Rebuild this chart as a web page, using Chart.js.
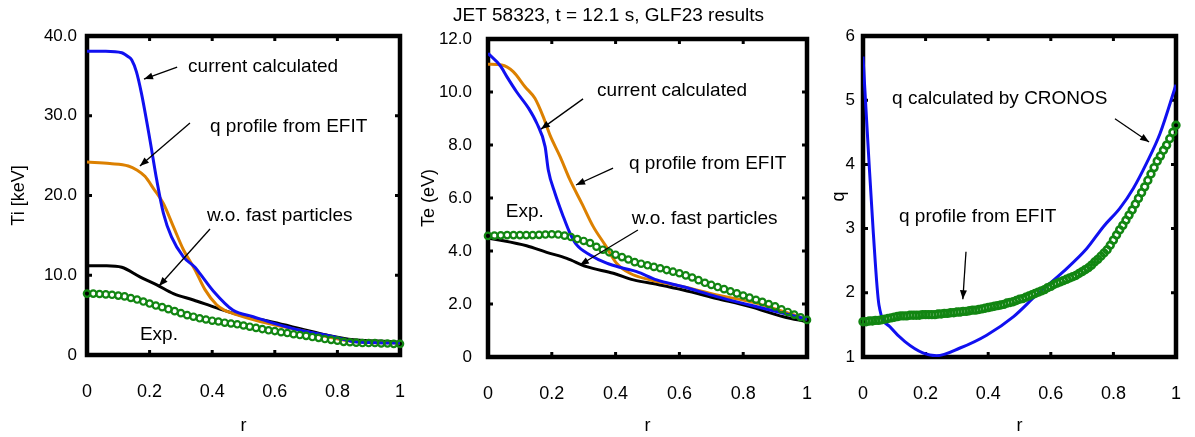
<!DOCTYPE html>
<html>
<head>
<meta charset="utf-8">
<script src="https://cdn.jsdelivr.net/npm/chart.js@4.4.0/dist/chart.umd.min.js"></script>
<style>
  body { margin: 0; background: #fff; }
  #wrap { position: relative; width: 1195px; height: 437px; overflow: hidden; }
  canvas { position: absolute; top: 0; }
</style>
</head>
<body>
<div id="wrap">
  <canvas id="ti" width="410" height="437" style="left:0"></canvas>
  <canvas id="te" width="410" height="437" style="left:410px"></canvas>
  <canvas id="q" width="375" height="437" style="left:820px"></canvas>
</div>
<script>
// radius grids of the measured profiles
const rExp = [0, 0.02, 0.04, 0.06, 0.08, 0.10, 0.12, 0.14, 0.16, 0.18, 0.20, 0.22, 0.24, 0.26, 0.28, 0.30, 0.32, 0.34, 0.36, 0.38, 0.40,
  0.42, 0.44, 0.46, 0.48, 0.50, 0.52, 0.54, 0.56, 0.58, 0.60, 0.62, 0.64, 0.66, 0.68, 0.70, 0.72, 0.74, 0.76, 0.78, 0.80,
  0.82, 0.84, 0.86, 0.88, 0.90, 0.92, 0.94, 0.96, 0.98, 1.00];
const rEfit = [0, 0.01, 0.02, 0.03, 0.04, 0.05, 0.06, 0.07, 0.08, 0.09, 0.10, 0.11, 0.12, 0.13, 0.14, 0.15, 0.16, 0.17, 0.18, 0.19,
  0.20, 0.21, 0.22, 0.23, 0.24, 0.25, 0.26, 0.27, 0.28, 0.29, 0.30, 0.31, 0.32, 0.33, 0.34, 0.35, 0.36, 0.37, 0.38, 0.39,
  0.40, 0.41, 0.42, 0.43, 0.44, 0.45, 0.46, 0.47, 0.48, 0.49, 0.50, 0.51, 0.52, 0.53, 0.54, 0.55, 0.56, 0.57, 0.58, 0.59,
  0.60, 0.61, 0.62, 0.63, 0.64, 0.65, 0.66, 0.67, 0.68, 0.69, 0.70, 0.71, 0.72, 0.73, 0.74, 0.75, 0.76, 0.77, 0.78, 0.79,
  0.80, 0.81, 0.82, 0.83, 0.84, 0.85, 0.86, 0.87, 0.88, 0.89, 0.90, 0.91, 0.92, 0.93, 0.94, 0.95, 0.96, 0.97, 0.98, 0.99, 1.00];

// Ti [keV]
const tiExp = [7.7, 7.7, 7.65, 7.6, 7.55, 7.45, 7.35, 7.15, 6.95, 6.7, 6.45, 6.2, 6.0, 5.75, 5.5, 5.25, 5.0, 4.8, 4.6, 4.45, 4.3,
  4.2, 4.05, 3.95, 3.85, 3.7, 3.55, 3.4, 3.25, 3.1, 3.0, 2.85, 2.75, 2.6, 2.5, 2.4, 2.25, 2.15, 2.0, 1.9, 1.8,
  1.65, 1.6, 1.55, 1.5, 1.5, 1.5, 1.45, 1.45, 1.4, 1.4];
const tiCurR = [0, 0.06, 0.111, 0.132, 0.143, 0.158, 0.174, 0.201, 0.223, 0.244, 0.270, 0.308, 0.345, 0.361, 0.404, 0.467, 0.531, 0.595, 0.681, 0.787, 0.851, 0.93, 1.0];
const tiCur = [38.1, 38.1, 37.9, 37.4, 37.0, 35.5, 32.8, 27.0, 21.9, 17.8, 14.8, 12.3, 11.0, 10.2, 8.0, 5.6, 4.8, 4.0, 3.1, 2.3, 1.7, 1.55, 1.5];
const tiEfitR = [0, 0.073, 0.132, 0.159, 0.185, 0.212, 0.244, 0.276, 0.308, 0.345, 0.377, 0.414, 0.44, 0.467, 0.553, 0.681, 0.851, 1.0];
const tiEfit = [24.2, 24.0, 23.7, 23.2, 22.4, 20.9, 19.0, 16.1, 13.2, 10.7, 8.2, 6.3, 5.6, 5.2, 4.2, 3.1, 1.7, 1.5];
const tiWofR = [0, 0.063, 0.111, 0.169, 0.223, 0.276, 0.340, 0.414, 0.489, 0.595, 0.681, 0.766, 0.851, 0.931, 1.0];
const tiWof = [11.2, 11.2, 11.0, 9.8, 8.8, 7.7, 6.9, 5.9, 5.0, 4.1, 3.3, 2.5, 1.9, 1.75, 1.6];

// Te (eV)
const teExp = [4.57, 4.58, 4.59, 4.60, 4.60, 4.60, 4.60, 4.60, 4.61, 4.62, 4.63, 4.62, 4.58, 4.53, 4.45, 4.38, 4.30, 4.16, 4.05, 3.95, 3.86,
  3.77, 3.68, 3.58, 3.52, 3.46, 3.40, 3.35, 3.28, 3.22, 3.16, 3.08, 3.00, 2.90, 2.80, 2.72, 2.64, 2.56, 2.48, 2.40, 2.32,
  2.24, 2.16, 2.08, 2.00, 1.91, 1.80, 1.70, 1.60, 1.50, 1.40];
const teCurR = [0, 0.038, 0.059, 0.090, 0.127, 0.153, 0.179, 0.189, 0.210, 0.236, 0.257, 0.278, 0.320, 0.372, 0.424, 0.466, 0.529, 0.612, 0.717, 0.821, 0.926, 1.0];
const teCur = [11.46, 11.0, 10.58, 10.0, 9.39, 8.82, 7.94, 7.06, 6.18, 5.30, 4.67, 4.23, 3.85, 3.54, 3.35, 3.22, 2.91, 2.65, 2.28, 1.96, 1.65, 1.42];
const teEfitR = [0, 0.043, 0.079, 0.116, 0.147, 0.173, 0.194, 0.226, 0.257, 0.294, 0.330, 0.367, 0.403, 0.445, 0.508, 0.612, 0.717, 0.821, 0.926, 1.0];
const teEfit = [11.05, 11.02, 10.77, 10.2, 9.76, 9.07, 8.38, 7.56, 6.68, 5.80, 4.92, 4.23, 3.54, 3.16, 2.91, 2.65, 2.34, 2.09, 1.72, 1.42];
const teWofR = [0, 0.048, 0.121, 0.184, 0.247, 0.309, 0.393, 0.456, 0.539, 0.612, 0.717, 0.821, 0.926, 1.0];
const teWof = [4.48, 4.39, 4.20, 3.95, 3.72, 3.41, 3.16, 2.91, 2.72, 2.53, 2.21, 1.90, 1.52, 1.33];

// q
const qEfit = [1.55, 1.55, 1.56, 1.56, 1.57, 1.57, 1.58, 1.59, 1.60, 1.61, 1.62, 1.63, 1.64, 1.64, 1.64, 1.65, 1.65, 1.65, 1.65, 1.66,
  1.66, 1.66, 1.66, 1.66, 1.67, 1.67, 1.68, 1.68, 1.69, 1.69, 1.70, 1.70, 1.71, 1.71, 1.72, 1.73, 1.73, 1.74, 1.75, 1.76,
  1.77, 1.78, 1.79, 1.80, 1.81, 1.82, 1.84, 1.85, 1.86, 1.88, 1.90, 1.91, 1.93, 1.95, 1.97, 1.99, 2.01, 2.03, 2.05, 2.08,
  2.10, 2.13, 2.15, 2.17, 2.19, 2.21, 2.23, 2.25, 2.27, 2.30, 2.33, 2.36, 2.39, 2.43, 2.48, 2.52, 2.57, 2.62, 2.67, 2.74,
  2.82, 2.90, 2.98, 3.05, 3.13, 3.21, 3.29, 3.38, 3.47, 3.56, 3.65, 3.75, 3.85, 3.95, 4.05, 4.13, 4.22, 4.30, 4.40, 4.50, 4.61];
const qCronosR = [0, 0.017, 0.033, 0.051, 0.086, 0.134, 0.193, 0.235, 0.310, 0.395, 0.481, 0.555, 0.640, 0.715, 0.768, 0.821, 0.864, 0.906, 0.949, 1.0];
const qCronos = [5.68, 4.22, 2.93, 1.81, 1.47, 1.24, 1.06, 1.02, 1.14, 1.34, 1.63, 1.97, 2.33, 2.69, 3.03, 3.32, 3.63, 4.02, 4.48, 5.24];

const FONT = '"Liberation Sans", Arial, sans-serif';
const NARROW = '"Liberation Sans Narrow", "Arial Narrow", "Liberation Sans", sans-serif';
const BLUE = '#1010f0', ORANGE = '#dc8000', GREEN = '#128612';

const pts = (xs, ys) => xs.map((x, i) => ({ x, y: ys[i] }));
const line = (xs, ys, color) => ({
  data: pts(xs, ys), showLine: true, borderColor: color, borderWidth: 3,
  pointRadius: 0, cubicInterpolationMode: 'monotone'
});
const circles = (xs, ys, r, w) => ({
  data: pts(xs, ys), showLine: false, borderColor: GREEN, backgroundColor: 'rgba(0,0,0,0)',
  pointRadius: r, pointBorderWidth: w, clip: 8
});

// frame with inward ticks
const frame = {
  id: 'frame',
  beforeDatasetsDraw(chart) {
    const { ctx, chartArea: a, scales: { x, y } } = chart;
    ctx.save();
    ctx.strokeStyle = '#000';
    ctx.lineWidth = 3;
    x.ticks.forEach(t => {
      const p = x.getPixelForValue(t.value);
      if (p < a.left + 4 || p > a.right - 4) return;
      ctx.beginPath();
      ctx.moveTo(p, a.top); ctx.lineTo(p, a.top + 5);
      ctx.moveTo(p, a.bottom); ctx.lineTo(p, a.bottom - 5);
      ctx.stroke();
    });
    y.ticks.forEach(t => {
      const p = y.getPixelForValue(t.value);
      if (p < a.top + 4 || p > a.bottom - 4) return;
      ctx.beginPath();
      ctx.moveTo(a.left, p); ctx.lineTo(a.left + 5, p);
      ctx.moveTo(a.right, p); ctx.lineTo(a.right - 5, p);
      ctx.stroke();
    });
    ctx.lineWidth = 4.5;
    ctx.strokeRect(a.left, a.top, a.right - a.left, a.bottom - a.top);
    ctx.restore();
  }
};

// text labels and arrows, placed in data units
const notes = {
  id: 'notes',
  afterDatasetsDraw(chart, args, opts) {
    const { ctx, scales: { x, y } } = chart;
    ctx.save();
    ctx.fillStyle = '#000';
    ctx.strokeStyle = '#000';
    ctx.font = '19px ' + FONT;
    ctx.textAlign = 'left';
    ctx.textBaseline = 'middle';
    (opts.labels || []).forEach(l => ctx.fillText(l.text, x.getPixelForValue(l.x), y.getPixelForValue(l.y)));
    ctx.lineWidth = 1.3;
    (opts.arrows || []).forEach(([x0, y0, x1, y1]) => {
      const ax = x.getPixelForValue(x0), ay = y.getPixelForValue(y0);
      const bx = x.getPixelForValue(x1), by = y.getPixelForValue(y1);
      const ang = Math.atan2(by - ay, bx - ax);
      ctx.beginPath(); ctx.moveTo(ax, ay); ctx.lineTo(bx, by); ctx.stroke();
      ctx.beginPath();
      ctx.moveTo(bx, by);
      ctx.lineTo(bx - 9 * Math.cos(ang) + 3.5 * Math.sin(ang), by - 9 * Math.sin(ang) - 3.5 * Math.cos(ang));
      ctx.lineTo(bx - 9 * Math.cos(ang) - 3.5 * Math.sin(ang), by - 9 * Math.sin(ang) + 3.5 * Math.cos(ang));
      ctx.closePath(); ctx.fill();
    });
    ctx.restore();
  }
};

const fmtR = v => (Math.abs(v) < 1e-9 ? '0' : Math.abs(v - 1) < 1e-9 ? '1' : v.toFixed(1));

function panel(id, o) {
  return new Chart(document.getElementById(id), {
    type: 'scatter',
    data: { datasets: o.datasets },
    plugins: [frame, notes],
    options: {
      responsive: false,
      animation: false,
      devicePixelRatio: 1,
      layout: { padding: o.pad },
      plugins: {
        legend: { display: false },
        tooltip: { enabled: false },
        title: o.title || { display: false },
        notes: o.notes
      },
      scales: {
        x: {
          type: 'linear', min: 0, max: 1,
          afterFit: s => { s.height = o.xH; },
          // invisible tick marks push the labels down without widening the padding
          grid: { display: false, drawTicks: true, tickLength: 25 },
          border: { display: false },
          ticks: { stepSize: 0.2, padding: 1, color: '#000', maxRotation: 0, autoSkip: false,
                   font: { family: FONT, size: 18 }, callback: fmtR },
          title: { display: true, text: 'r', color: '#000', font: { family: FONT, size: 18 },
                   padding: { top: 0, bottom: 0 } }
        },
        y: {
          type: 'linear', min: o.yMin, max: o.yMax,
          afterFit: s => { s.width = o.yW; },
          grid: { display: false, drawTicks: true, tickLength: o.yPad },
          border: { display: false },
          ticks: { stepSize: o.yStep, padding: 0, color: '#000', autoSkip: false,
                   font: { family: NARROW, size: 17 }, callback: o.yFmt },
          title: { display: true, text: o.yTitle, color: '#000', font: { family: FONT, size: 18 },
                   padding: { top: 8, bottom: 0 } }
        }
      }
    }
  });
}

panel('ti', {
  pad: { top: 36, right: 10, left: 0, bottom: 0 }, xH: 82, yW: 87, yPad: 10,
  yMin: 0, yMax: 40, yStep: 10, yTitle: 'Ti [keV]',
  yFmt: v => (v === 0 ? '0' : v.toFixed(1)),
  datasets: [circles(rExp, tiExp, 3.2, 2.2), line(tiCurR, tiCur, BLUE), line(tiEfitR, tiEfit, ORANGE), line(tiWofR, tiWof, '#000')],
  notes: {
    labels: [
      { text: 'current calculated', x: 0.323, y: 36.1 },
      { text: 'q profile from EFIT', x: 0.393, y: 28.6 },
      { text: 'w.o. fast particles', x: 0.383, y: 17.4 },
      { text: 'Exp.', x: 0.169, y: 2.5 }
    ],
    arrows: [[0.288, 36.1, 0.182, 34.6], [0.329, 29.1, 0.169, 23.7], [0.393, 15.8, 0.230, 8.65]]
  }
});

panel('te', {
  pad: { top: 0, right: 13, left: 0, bottom: 0 }, xH: 80, yW: 78, yPad: 16,
  yMin: 0, yMax: 12, yStep: 2, yTitle: 'Te (eV)',
  yFmt: v => (v === 0 ? '0' : v.toFixed(1)),
  title: { display: true, text: 'JET 58323, t = 12.1 s, GLF23 results', color: '#000',
           font: { family: FONT, size: 19, weight: 'normal' }, padding: { top: 4, bottom: 12.2 } },
  datasets: [circles(rExp, teExp, 3.2, 2.2), line(teCurR, teCur, BLUE), line(teEfitR, teEfit, ORANGE), line(teWofR, teWof, '#000')],
  notes: {
    labels: [
      { text: 'current calculated', x: 0.342, y: 10.04 },
      { text: 'q profile from EFIT', x: 0.442, y: 7.28 },
      { text: 'w.o. fast particles', x: 0.451, y: 5.21 },
      { text: 'Exp.', x: 0.056, y: 5.47 }
    ],
    arrows: [[0.298, 9.74, 0.166, 8.60], [0.392, 7.13, 0.276, 6.49], [0.470, 4.79, 0.288, 3.47]]
  }
});

panel('q', {
  pad: { top: 36, right: 19, left: 0, bottom: 0 }, xH: 80, yW: 43, yPad: 8,
  yMin: 1, yMax: 6, yStep: 1, yTitle: 'q',
  yFmt: v => String(v),
  datasets: [circles(rEfit, qEfit, 3.4, 2.6), line(qCronosR, qCronos, BLUE)],
  notes: {
    labels: [
      { text: 'q calculated by CRONOS', x: 0.093, y: 5.02 },
      { text: 'q profile from EFIT', x: 0.115, y: 3.18 }
    ],
    arrows: [[0.805, 4.71, 0.914, 4.35], [0.329, 2.64, 0.319, 1.90]]
  }
});
</script>
</body>
</html>
